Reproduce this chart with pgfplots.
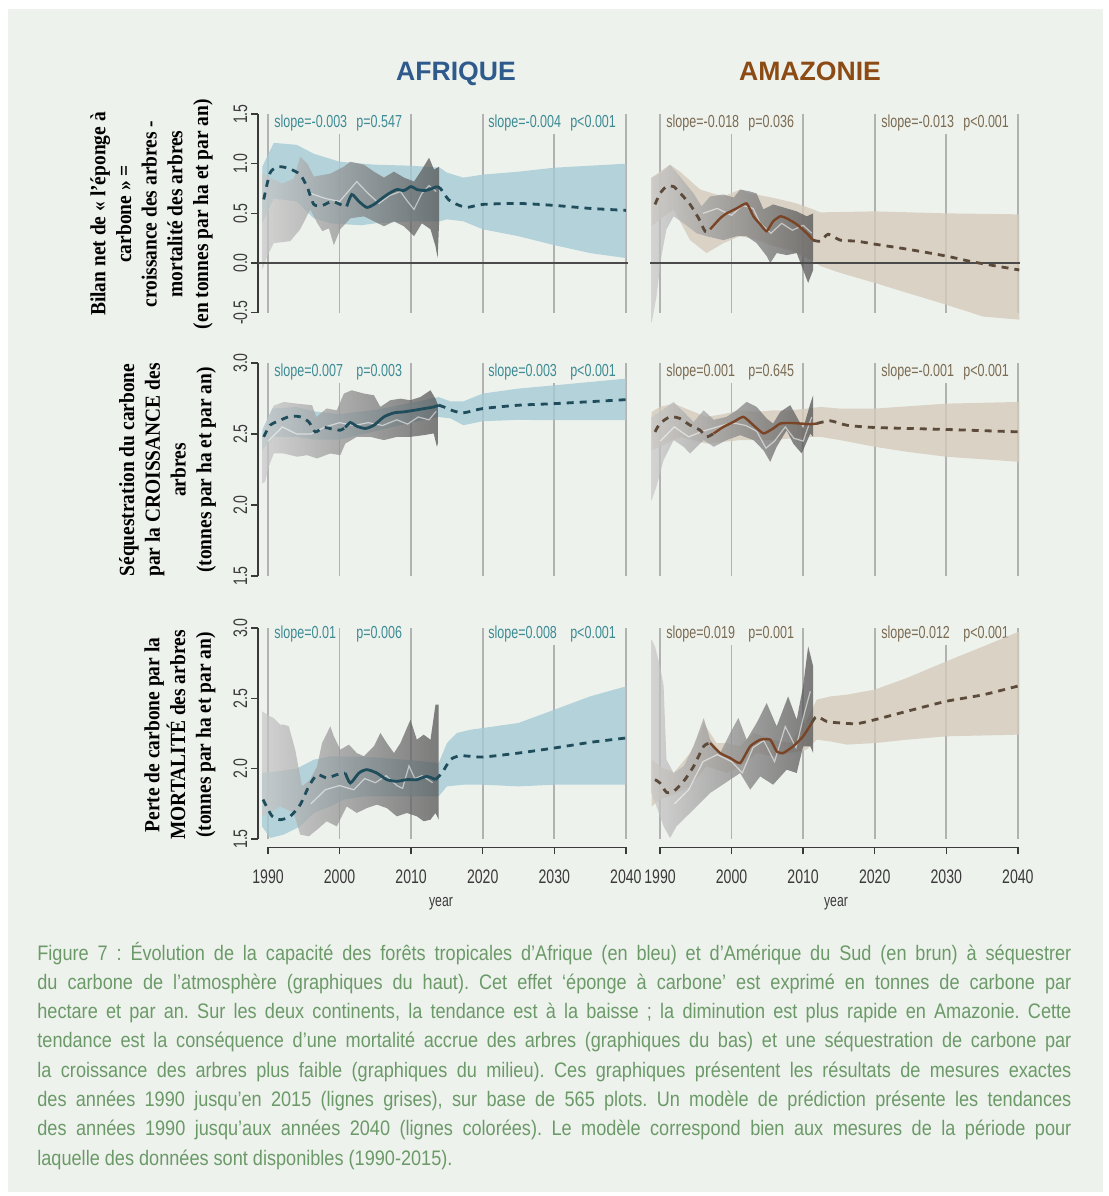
\documentclass[border=0pt]{standalone}
\usepackage{fontspec}
\setmainfont{Liberation Sans}
\newfontfamily\narrowfont{Liberation Sans}[FakeStretch=0.72]
\newfontfamily\capfont{Liberation Sans}[FakeStretch=0.863]
\newfontfamily\labfont{Liberation Serif}[FakeStretch=0.9]
\usepackage{pgfplots}
\pgfplotsset{compat=1.18}

\definecolor{bgc}{HTML}{EEF2ED}
\definecolor{blueband}{HTML}{A6CAD6}
\definecolor{beigeband}{HTML}{D5CABB}
\definecolor{g1}{HTML}{C8C8C8}
\definecolor{g2}{HTML}{4E4E4E}
\definecolor{blueline}{HTML}{1F4D5C}
\definecolor{brownline}{HTML}{7A4526}
\definecolor{browndash}{HTML}{5C4A3A}
\definecolor{afrtext}{HTML}{3E8B94}
\definecolor{amztext}{HTML}{7B6B52}
\definecolor{gridc}{HTML}{B2B2B2}
\definecolor{tickc}{HTML}{3A3A3A}
\definecolor{zeroc}{HTML}{4A4A4A}
\definecolor{capc}{HTML}{6B9A68}
\definecolor{afrtitle}{HTML}{2F5B8C}
\definecolor{amztitle}{HTML}{8C4A14}

\pgfplotsset{
    panel/.style={scale only axis, width=185pt, xmin=1988.6, xmax=2040.3,
        clip=false, axis line style={draw=none}, tick align=outside,
        tick pos=left, major tick length=3.5pt,
        tick style={draw=tickc, line width=0.7pt},
        ticklabel style={font=\narrowfont\fontsize{9.8pt}{10pt}\selectfont, text=tickc},
        yticklabel style={rotate=90, anchor=south, inner sep=1.6pt},
        xtick=\empty, ytick=\empty},
    toprow/.style={height=107.25pt, ymin=-0.58, ymax=1.58},
    midrow/.style={height=115pt, ymin=1.44, ymax=3.06},
    botrow/.style={height=113.9pt, ymin=1.44, ymax=3.06},
    yleft top/.style={ytick={-0.5,0,0.5,1,1.5}, yticklabels={-0.5,0.0,0.5,1.0,1.5}},
    yleft low/.style={ytick={1.5,2,2.5,3}, yticklabels={1.5,2.0,2.5,3.0}},
    xbottom/.style={xtick={1990,2000,2010,2020,2030,2040},
        xticklabels={1990,2000,2010,2020,2030,2040},
        xticklabel style={yshift=-4pt}},
    bband/.style={draw=none, fill=blueband, fill opacity=0.8},
    tband/.style={draw=none, fill=beigeband, fill opacity=0.8},
    gband/.style={draw=none, left color=g1, right color=g2, fill opacity=0.72},
    lite/.style={draw=white, draw opacity=0.55, line width=0.6pt},
    bdash/.style={draw=blueline, line width=1.4pt, dash pattern=on 3.5pt off 3pt, smooth, tension=0.4},
    bsolid/.style={draw=blueline, line width=1.4pt, smooth, tension=0.4},
    tdash/.style={draw=browndash, line width=1.4pt, dash pattern=on 3.5pt off 3pt, smooth, tension=0.4},
    tsolid/.style={draw=brownline, line width=1.2pt, smooth, tension=0.3},
}
\tikzset{
    gridl/.style={draw=gridc, line width=0.8pt},
    axl/.style={draw=tickc, line width=0.8pt},
    zerol/.style={draw=zeroc, line width=1.1pt},
    afrt/.style={anchor=west, font=\narrowfont\fontsize{8.7pt}{9pt}\selectfont,
        text=afrtext, fill=bgc, inner sep=1.5pt},
    amzt/.style={afrt, text=amztext},
}

\begin{document}
\begin{tikzpicture}
\begin{scope}[x=0.5pt,y=-0.5pt]
\fill[white] (0,0) rectangle (1109,1196);
\fill[bgc] (8,9) rectangle (1103,1192);
\end{scope}

% ---------------- top left: bilan net, Afrique
\begin{axis}[panel, toprow, yleft top, at={(129pt,-160.3pt)}, anchor=south west]
\pgfplotsinvokeforeach{1990,2000,2010,2020,2030,2040}{\draw[gridl] (axis cs:#1,-0.5) -- (axis cs:#1,1.5);}
\draw[axl] (axis cs:1988.6,-0.5) -- (axis cs:1988.6,1.5);
\node[afrt] at (axis cs:1990.42,1.41) {slope=-0.003};
\node[afrt] at (axis cs:2001.87,1.41) {p=0.547};
\node[afrt] at (axis cs:2020.31,1.41) {slope=-0.004};
\node[afrt] at (axis cs:2031.76,1.41) {p<0.001};
\addplot[bband] coordinates {(1989.2,0.97) (1990.8,1.21) (1994.0,1.19) (1996.4,1.10) (2000,1.02) (2005,0.99) (2010,0.98) (2014.0,0.96) (2015.0,0.91) (2017.3,0.86) (2020,0.89) (2025,0.92) (2030,0.96) (2035,0.98) (2040,1.00)
 (2040,0.05) (2035,0.10) (2030,0.18) (2025,0.27) (2020,0.34) (2017.3,0.42) (2015,0.44) (2014,0.42) (2010,0.42) (2005,0.40) (2003,0.38) (1998.7,0.40) (1996.4,0.45) (1994,0.62) (1990.8,0.65) (1989.2,0.40)};
\addplot[gband] coordinates {(1989.2,0.90) (1990.5,0.85) (1992,0.80) (1993.6,0.85) (1994.5,1.07) (1995.5,1.00) (1996.4,0.87) (1998.7,0.90) (2000.6,0.97) (2001.5,1.02) (2003.4,0.99) (2004.8,0.92) (2006.2,0.86) (2007.6,0.92) (2009.0,0.86) (2010.4,0.82) (2011.5,0.94) (2012.5,1.06) (2013.2,0.94) (2013.9,0.97)
 (2013.9,0.40) (2013.7,0.05) (2013.4,0.17) (2012.7,0.34) (2011.5,0.40) (2010.4,0.27) (2009.0,0.37) (2007.6,0.42) (2006.2,0.37) (2004.8,0.42) (2003.4,0.47) (2001.5,0.45) (2000.1,0.34) (1999.2,0.18) (1998.5,0.35) (1997.6,0.32) (1996.9,0.40) (1995.9,0.54) (1994.5,0.34) (1993.1,0.22) (1990.8,0.20) (1989.9,0.07) (1989.2,-0.07)};
\addplot[lite] coordinates {(1996,0.70) (1998,0.65) (2000,0.62) (2002.4,0.82) (2004,0.70) (2005.5,0.60) (2007,0.68) (2008.5,0.72) (2009.5,0.62) (2010.4,0.54) (2011.5,0.70) (2012.5,0.78) (2013.5,0.72)};
\draw[zerol] (axis cs:1988.6,0) -- (axis cs:2040.3,0);
\addplot[bdash] coordinates {(1989.4,0.64) (1990.3,0.91) (1991.5,0.97) (1993.0,0.95) (1994.5,0.89) (1995.5,0.76) (1996.4,0.59) (1997.6,0.58) (1998.9,0.62) (2000.1,0.59) (2001.0,0.57)};
\addplot[bsolid] coordinates {(2001.0,0.57) (2001.7,0.69) (2002.7,0.62) (2003.8,0.56) (2004.8,0.59) (2005.9,0.65) (2006.9,0.70) (2008.0,0.74) (2009.0,0.73) (2010.0,0.77) (2010.8,0.74) (2012.0,0.73) (2012.9,0.75) (2013.6,0.77)};
\addplot[bdash] coordinates {(2013.6,0.77) (2014.1,0.75) (2015.2,0.64) (2016.4,0.59) (2017.8,0.56) (2020,0.59) (2025,0.60) (2030,0.58) (2035,0.55) (2040,0.53)};
\end{axis}

% ---------------- top right: bilan net, Amazonie
\begin{axis}[panel, toprow, at={(325pt,-160.3pt)}, anchor=south west]
\pgfplotsinvokeforeach{1990,2000,2010,2020,2030,2040}{\draw[gridl] (axis cs:#1,-0.5) -- (axis cs:#1,1.5);}
\node[amzt] at (axis cs:1990.42,1.41) {slope=-0.018};
\node[amzt] at (axis cs:2001.87,1.41) {p=0.036};
\node[amzt] at (axis cs:2020.45,1.41) {slope=-0.013};
\node[amzt] at (axis cs:2031.9,1.41) {p<0.001};
\addplot[tband] coordinates {(1988.84,0.86) (1990,0.92) (1991.4,0.99) (1992.8,0.92) (1995.6,0.74) (1998.85,0.67) (2001.2,0.74) (2002.6,0.70) (2004.9,0.67) (2006.8,0.64) (2009.1,0.60) (2011.4,0.54) (2012.4,0.51) (2020,0.52) (2030,0.50) (2040.2,0.49)
 (2040.2,-0.57) (2035.2,-0.54) (2030,-0.42) (2024.5,-0.30) (2020,-0.20) (2015.2,-0.10) (2012.4,-0.03) (2011.4,0.02) (2008.2,0.13) (2005.8,0.17) (2003.5,0.235) (2001.2,0.27) (1998.85,0.20) (1996.5,0.10) (1994.2,0.23) (1991.9,0.54) (1990,0.44) (1988.84,0.37)};
\addplot[gband] coordinates {(1988.84,0.86) (1990,0.90) (1991.4,0.99) (1992.8,0.87) (1994.7,0.70) (1995.8,0.57) (1997.0,0.67) (1998.85,0.69) (2000.3,0.66) (2001.2,0.74) (2002.6,0.72) (2003.5,0.70) (2004.45,0.54) (2005.8,0.59) (2007.7,0.55) (2009.1,0.52) (2010.5,0.47) (2011.4,0.50)
 (2011.4,-0.07) (2010.7,-0.20) (2010.0,-0.07) (2009.1,0.10) (2007.7,0.08) (2006.3,0.10) (2005.4,0.0) (2004.9,0.07) (2003.5,0.20) (2002.1,0.27) (2000.7,0.27) (1998.85,0.23) (1996.5,0.27) (1995.1,0.30) (1993.3,0.40) (1991.9,0.47) (1990.9,0.34) (1990.2,0.07) (1989.5,-0.34) (1988.84,-0.60)};
\addplot[lite] coordinates {(1996,0.50) (1998,0.55) (2000,0.48) (2001.5,0.58) (2003,0.55) (2004,0.40) (2005.5,0.30) (2007,0.40) (2008.5,0.33) (2010,0.38) (2011.2,0.30)};
\draw[zerol] (axis cs:1988.6,0) -- (axis cs:2040.3,0);
\addplot[tdash] coordinates {(1989.3,0.59) (1990.0,0.70) (1990.9,0.77) (1991.9,0.77) (1993.0,0.69) (1994.2,0.59) (1995.4,0.45) (1996.3,0.32) (1997.0,0.34)};
\addplot[tsolid] coordinates {(1997.0,0.34) (1998.4,0.45) (1999.3,0.50) (2000.7,0.55) (2002.1,0.60) (2003.05,0.47) (2004.0,0.39) (2004.9,0.32) (2005.8,0.42) (2006.8,0.47) (2007.7,0.45) (2009.1,0.39) (2010.5,0.30) (2011.4,0.23)};
\addplot[tdash] coordinates {(2011.4,0.23) (2012.4,0.22) (2013.5,0.29) (2015.2,0.23) (2017.5,0.22) (2020,0.19) (2024.5,0.14) (2030,0.07) (2033.8,0.01) (2040.2,-0.07)};
\end{axis}

% ---------------- middle left: croissance, Afrique
\begin{axis}[panel, midrow, yleft low, at={(129pt,-292.25pt)}, anchor=south west]
\pgfplotsinvokeforeach{1990,2000,2010,2020,2030,2040}{\draw[gridl] (axis cs:#1,1.5) -- (axis cs:#1,3);}
\draw[axl] (axis cs:1988.6,1.5) -- (axis cs:1988.6,3);
\node[afrt] at (axis cs:1990.42,2.937) {slope=0.007};
\node[afrt] at (axis cs:2001.87,2.937) {p=0.003};
\node[afrt] at (axis cs:2020.31,2.937) {slope=0.003};
\node[afrt] at (axis cs:2031.76,2.937) {p<0.001};
\addplot[bband] coordinates {(1989.2,2.53) (1990.6,2.68) (1994.0,2.69) (1996.4,2.66) (2000,2.64) (2005,2.67) (2010,2.72) (2013.85,2.76) (2015.5,2.73) (2017.3,2.73) (2020,2.785) (2025,2.82) (2030,2.843) (2040,2.89)
 (2040,2.597) (2030,2.597) (2025,2.60) (2020,2.59) (2017.3,2.562) (2015.5,2.61) (2013.85,2.62) (2010,2.58) (2005,2.52) (2000,2.46) (1996.4,2.46) (1994,2.48) (1990.8,2.48) (1989.2,2.39)};
\addplot[gband] coordinates {(1989.16,2.48) (1990.1,2.62) (1990.8,2.70) (1992.2,2.726) (1994.05,2.714) (1996.15,2.703) (1996.75,2.62) (1998.2,2.68) (1999.6,2.667) (2000.6,2.785) (2001.7,2.808) (2003.4,2.785) (2004.8,2.773) (2005.7,2.691) (2007.1,2.738) (2008.5,2.749) (2009.9,2.738) (2011.3,2.761) (2012.7,2.808) (2013.4,2.749) (2013.85,2.691)
 (2013.85,2.457) (2013.6,2.41) (2013.15,2.504) (2011.75,2.492) (2009.9,2.48) (2008.0,2.48) (2006.2,2.457) (2004.3,2.48) (2002.4,2.48) (2000.8,2.433) (2000.1,2.351) (1998.7,2.363) (1996.85,2.328) (1995.45,2.351) (1994.05,2.340) (1992.2,2.363) (1990.8,2.363) (1990.1,2.269) (1989.6,2.164) (1989.16,2.152)};
\addplot[lite] coordinates {(1990,2.45) (1992,2.55) (1994,2.50) (1996,2.50) (1998,2.55) (2000,2.58) (2002,2.56) (2004,2.58) (2006,2.56) (2008,2.60) (2009.5,2.57) (2011,2.62) (2012.5,2.60) (2013.5,2.66)};
\addplot[bdash] coordinates {(1989.4,2.48) (1990.3,2.562) (1991.7,2.597) (1993.1,2.625) (1994.5,2.621) (1995.7,2.585) (1996.6,2.515) (1997.8,2.546) (1999.2,2.532) (2000.1,2.527) (2000.8,2.546)};
\addplot[bsolid] coordinates {(2000.8,2.546) (2001.5,2.581) (2002.4,2.555) (2003.6,2.539) (2004.8,2.562) (2006.2,2.621) (2007.6,2.649) (2009.0,2.656) (2010.4,2.667) (2011.8,2.679) (2013.2,2.691) (2013.85,2.703)};
\addplot[bdash] coordinates {(2013.85,2.703) (2014.55,2.691) (2015.9,2.663) (2017.3,2.649) (2020,2.679) (2025,2.703) (2030,2.714) (2040,2.742)};
\end{axis}

% ---------------- middle right: croissance, Amazonie
\begin{axis}[panel, midrow, at={(325pt,-292.25pt)}, anchor=south west]
\pgfplotsinvokeforeach{1990,2000,2010,2020,2030,2040}{\draw[gridl] (axis cs:#1,1.5) -- (axis cs:#1,3);}
\node[amzt] at (axis cs:1990.42,2.937) {slope=0.001};
\node[amzt] at (axis cs:2001.87,2.937) {p=0.645};
\node[amzt] at (axis cs:2020.45,2.937) {slope=-0.001};
\node[amzt] at (axis cs:2031.9,2.937) {p<0.001};
\addplot[tband] coordinates {(1988.84,2.656) (1990,2.691) (1991.9,2.714) (1994.2,2.667) (1996.5,2.621) (1998.85,2.64) (2001.2,2.667) (2003.5,2.656) (2005.8,2.667) (2008.2,2.667) (2010.5,2.679) (2012.4,2.691) (2015.2,2.679) (2020,2.679) (2030,2.714) (2040.2,2.726)
 (2040.2,2.304) (2030,2.340) (2024.5,2.375) (2020,2.410) (2015.2,2.457) (2012.4,2.48) (2010.5,2.48) (2005.8,2.457) (2001.2,2.457) (1996.5,2.433) (1992.8,2.48) (1990,2.41) (1988.84,2.386)};
\addplot[gband] coordinates {(1988.84,2.621) (1990,2.656) (1991.9,2.726) (1993.3,2.656) (1994.7,2.585) (1996.1,2.667) (1997.5,2.60) (1999.3,2.621) (2000.7,2.667) (2002.1,2.726) (2003.5,2.691) (2004.9,2.609) (2005.8,2.574) (2006.8,2.656) (2008.2,2.703) (2009.1,2.621) (2010.0,2.539) (2011.0,2.714) (2011.4,2.773)
 (2011.4,2.48) (2011.0,2.504) (2009.8,2.363) (2008.6,2.433) (2007.7,2.527) (2006.3,2.41) (2005.4,2.304) (2004.45,2.386) (2003.05,2.457) (2001.2,2.492) (1999.3,2.457) (1997.5,2.41) (1996.1,2.457) (1994.2,2.363) (1993.3,2.41) (1991.9,2.457) (1990.5,2.316) (1989.5,2.129) (1988.84,2.035)};
\addplot[lite] coordinates {(1990,2.45) (1992,2.55) (1994,2.48) (1996,2.52) (1998,2.55) (2000,2.58) (2002,2.56) (2003.5,2.52) (2004.8,2.40) (2006,2.45) (2007.5,2.55) (2008.7,2.47) (2010,2.45) (2011.2,2.62)};
\addplot[tdash] coordinates {(1989.3,2.515) (1990,2.574) (1991.4,2.621) (1992.8,2.609) (1994.2,2.562) (1995.6,2.527) (1996.5,2.48) (1997.5,2.504)};
\addplot[tsolid] coordinates {(1997.5,2.504) (1998.85,2.55) (2000.25,2.585) (2001.65,2.621) (2003.05,2.562) (2004.45,2.504) (2005.8,2.539) (2006.8,2.574) (2008.2,2.578) (2009.6,2.574) (2011.0,2.569) (2011.9,2.574)};
\addplot[tdash] coordinates {(2011.9,2.574) (2013.8,2.593) (2016.1,2.562) (2020,2.546) (2030,2.532) (2040.2,2.515)};
\end{axis}

% ---------------- bottom left: mortalite, Afrique
\begin{axis}[panel, botrow, yleft low, xbottom, at={(129pt,-423.7pt)}, anchor=south west]
\pgfplotsinvokeforeach{1990,2000,2010,2020,2030,2040}{\draw[gridl] (axis cs:#1,1.5) -- (axis cs:#1,3);}
\draw[axl] (axis cs:1988.6,1.5) -- (axis cs:1988.6,3);
\draw[axl] (axis cs:1990,1.44) -- (axis cs:2040,1.44);
\node[afrt] at (axis cs:1990.42,2.957) {slope=0.01};
\node[afrt] at (axis cs:2001.87,2.957) {p=0.006};
\node[afrt] at (axis cs:2020.31,2.957) {slope=0.008};
\node[afrt] at (axis cs:2031.76,2.957) {p<0.001};
\addplot[bband] coordinates {(1989.16,1.969) (1991,1.98) (1994,2.0) (1996.4,2.064) (1998.7,2.088) (2000.1,2.088) (2005,2.08) (2010,2.06) (2013.85,2.04) (2015.0,2.182) (2016.4,2.254) (2018.3,2.277) (2020,2.289) (2025,2.325) (2030,2.419) (2035,2.514) (2040,2.585)
 (2040,1.886) (2030,1.886) (2025,1.874) (2020,1.886) (2017.3,1.886) (2015.0,1.874) (2013.85,1.803) (2008,1.803) (2003.4,1.803) (2000.6,1.78) (1998.7,1.732) (1996.4,1.685) (1994.5,1.59) (1992.2,1.531) (1990.3,1.507) (1989.16,1.59)};
\addplot[gband] coordinates {(1989.16,2.408) (1990.3,2.372) (1990.8,2.36) (1991.7,2.313) (1992.2,2.313) (1992.9,2.301) (1993.8,2.135) (1994.75,1.874) (1995.9,1.922) (1996.85,2.017) (1997.55,2.182) (1998.7,2.301) (1999.2,2.23) (2000.1,2.135) (2001.3,2.171) (2002.4,2.111) (2003.4,2.088) (2004.8,2.159) (2005.7,2.254) (2006.6,2.182) (2007.6,2.111) (2008.5,2.182) (2009.9,2.348) (2010.8,2.206) (2011.75,2.242) (2012.7,2.206) (2013.4,2.455) (2013.85,2.455)
 (2013.85,1.637) (2013.4,1.685) (2012.7,1.637) (2011.75,1.626) (2010.8,1.661) (2009.4,1.685) (2008.0,1.661) (2006.6,1.72) (2005.2,1.744) (2003.8,1.72) (2002.4,1.685) (2001.0,1.732) (1999.6,1.59) (1998.2,1.626) (1996.85,1.566) (1995.7,1.519) (1994.5,1.531) (1993.6,1.685) (1991.7,1.732) (1990.3,1.685) (1989.16,1.661)};
\addplot[lite] coordinates {(1996,1.75) (1998,1.85) (2000,1.88) (2002,1.85) (2003.5,1.93) (2005,1.90) (2006.5,1.95) (2008,1.88) (2008.8,1.86) (2009.7,2.02) (2010.5,1.93) (2011.5,1.95) (2013,1.90)};
\addplot[bdash] coordinates {(1989.3,1.78) (1989.9,1.72) (1990.6,1.661) (1991.7,1.637) (1993.1,1.661) (1994.5,1.744) (1995.7,1.874) (1996.85,1.957) (1998.2,1.934) (1999.6,1.957) (2000.8,1.969)};
\addplot[bsolid] coordinates {(2000.8,1.969) (2001.5,1.898) (2002.7,1.969) (2003.8,1.993) (2005.2,1.969) (2006.6,1.922) (2008.0,1.91) (2009.4,1.922) (2010.8,1.922) (2012.2,1.945) (2013.4,1.922)};
\addplot[bdash] coordinates {(2013.4,1.922) (2014.3,1.969) (2015.5,2.064) (2016.9,2.092) (2020,2.083) (2025,2.111) (2030,2.147) (2035,2.187) (2040,2.218)};
\end{axis}

% ---------------- bottom right: mortalite, Amazonie
\begin{axis}[panel, botrow, xbottom, at={(325pt,-423.7pt)}, anchor=south west]
\pgfplotsinvokeforeach{1990,2000,2010,2020,2030,2040}{\draw[gridl] (axis cs:#1,1.5) -- (axis cs:#1,3);}
\draw[axl] (axis cs:1990,1.44) -- (axis cs:2040,1.44);
\node[amzt] at (axis cs:1990.42,2.957) {slope=0.019};
\node[amzt] at (axis cs:2001.87,2.957) {p=0.001};
\node[amzt] at (axis cs:2020.45,2.957) {slope=0.012};
\node[amzt] at (axis cs:2031.9,2.957) {p<0.001};
\addplot[tband] coordinates {(1988.84,2.064) (1990,2.017) (1991.9,1.969) (1994.2,2.111) (1996.1,2.325) (1997.9,2.182) (1999.3,2.182) (2001.2,2.159) (2003.05,2.254) (2005.8,2.206) (2008.2,2.182) (2010.5,2.348) (2011.9,2.491) (2013.8,2.514) (2016.1,2.526) (2020,2.562) (2024.5,2.645) (2030,2.763) (2035.2,2.87) (2040.2,2.976)
 (2040.2,2.242) (2030,2.23) (2024.5,2.206) (2020,2.182) (2016.1,2.171) (2013.8,2.194) (2011.9,2.206) (2010.5,2.135) (2008.2,2.111) (2005.8,2.088) (2003.5,2.111) (2001.2,2.017) (1999.3,1.969) (1996.5,2.017) (1994.2,1.874) (1991.9,1.815) (1990,1.78) (1988.84,1.732)};
\addplot[gband] coordinates {(1988.84,2.917) (1989.3,2.87) (1990,2.727) (1990.5,2.59) (1990.9,2.064) (1991.9,1.969) (1993.3,2.017) (1994.7,2.159) (1996.1,2.36) (1997.0,2.206) (1998.4,2.111) (1999.8,2.254) (2000.95,2.36) (2002.1,2.206) (2003.5,2.325) (2004.9,2.467) (2006.3,2.301) (2007.9,2.514) (2009.1,2.348) (2010.0,2.59) (2010.7,2.87) (2011.4,2.727)
 (2011.4,2.111) (2011.0,2.159) (2010.0,2.159) (2009.1,1.969) (2007.7,1.993) (2005.8,1.886) (2004.0,1.945) (2002.6,1.851) (2001.2,1.969) (1999.8,1.922) (1998.4,1.874) (1997.0,1.827) (1994.2,1.685) (1992.3,1.59) (1991.4,1.507) (1990.5,1.59) (1989.5,1.732) (1988.84,1.827)};
\addplot[lite] coordinates {(1992,1.75) (1994,1.85) (1996,2.05) (1998,2.1) (2000,2.05) (2001.5,1.97) (2003,2.15) (2004.5,2.20) (2006,2.05) (2007.5,2.30) (2009,2.15) (2010.2,2.40) (2011,2.55)};
\addplot[tdash] coordinates {(1989.3,1.922) (1990,1.898) (1990.9,1.832) (1991.9,1.839) (1993.3,1.91) (1994.7,2.017) (1996.1,2.159) (1997.0,2.182)};
\addplot[tsolid] coordinates {(1997.0,2.182) (1998.4,2.111) (1999.8,2.076) (2001.2,2.04) (2002.6,2.159) (2004.0,2.206) (2005.4,2.206) (2006.3,2.123) (2007.2,2.111) (2008.6,2.159) (2010.0,2.23) (2011.2,2.325)};
\addplot[tdash] coordinates {(2011.2,2.325) (2011.9,2.372) (2013.3,2.336) (2015.2,2.325) (2017.5,2.32) (2020,2.348) (2024.5,2.408) (2030,2.479) (2035.2,2.526) (2040.2,2.59)};
\end{axis}

\begin{scope}[x=0.5pt,y=-0.5pt]
% titles
\node[anchor=base, font=\bfseries\fontsize{13.3pt}{16pt}\selectfont, text=afrtitle] at (456,80) {AFRIQUE};
\node[anchor=base, font=\bfseries\fontsize{13.3pt}{16pt}\selectfont, text=amztitle] at (810,80) {AMAZONIE};
% row labels
\node[rotate=90, align=center, font=\labfont\bfseries\fontsize{10.8pt}{12.85pt}\selectfont] at (151.5,214)
  {Bilan net de « l’éponge à\\carbone » =\\croissance des arbres -\\mortalité des arbres\\(en tonnes par ha et par an)};
\node[rotate=90, align=center, font=\labfont\bfseries\fontsize{10.8pt}{12.85pt}\selectfont] at (167.5,470)
  {Séquestration du carbone\\par la CROISSANCE des\\arbres\\(tonnes par ha et par an)};
\node[rotate=90, align=center, font=\labfont\bfseries\fontsize{10.8pt}{12.85pt}\selectfont] at (180,735)
  {Perte de carbone par la\\MORTALITÉ des arbres\\(tonnes par ha et par an)};
% x labels
\node[font=\narrowfont\fontsize{8.5pt}{9pt}\selectfont, text=tickc] at (441,904) {year};
\node[font=\narrowfont\fontsize{8.5pt}{9pt}\selectfont, text=tickc] at (836,904) {year};
% caption
\node[anchor=base west, inner sep=0pt, text=capc] at (37,960) {\parbox[t]{517pt}{\frenchspacing\capfont\fontsize{10.5pt}{14.65pt}\selectfont
Figure 7 : Évolution de la capacité des forêts tropicales d’Afrique (en bleu) et d’Amérique du Sud (en brun) à séquestrer\linebreak
du carbone de l’atmosphère (graphiques du haut). Cet effet ‘éponge à carbone’ est exprimé en tonnes de carbone par\linebreak
hectare et par an. Sur les deux continents, la tendance est à la baisse ; la diminution est plus rapide en Amazonie. Cette\linebreak
tendance est la conséquence d’une mortalité accrue des arbres (graphiques du bas) et une séquestration de carbone par\linebreak
la croissance des arbres plus faible (graphiques du milieu). Ces graphiques présentent les résultats de mesures exactes\linebreak
des années 1990 jusqu’en 2015 (lignes grises), sur base de 565 plots. Un modèle de prédiction présente les tendances\linebreak
des années 1990 jusqu’aux années 2040 (lignes colorées). Le modèle correspond bien aux mesures de la période pour\linebreak
laquelle des données sont disponibles (1990-2015).}};
\end{scope}
\end{tikzpicture}
\end{document}
